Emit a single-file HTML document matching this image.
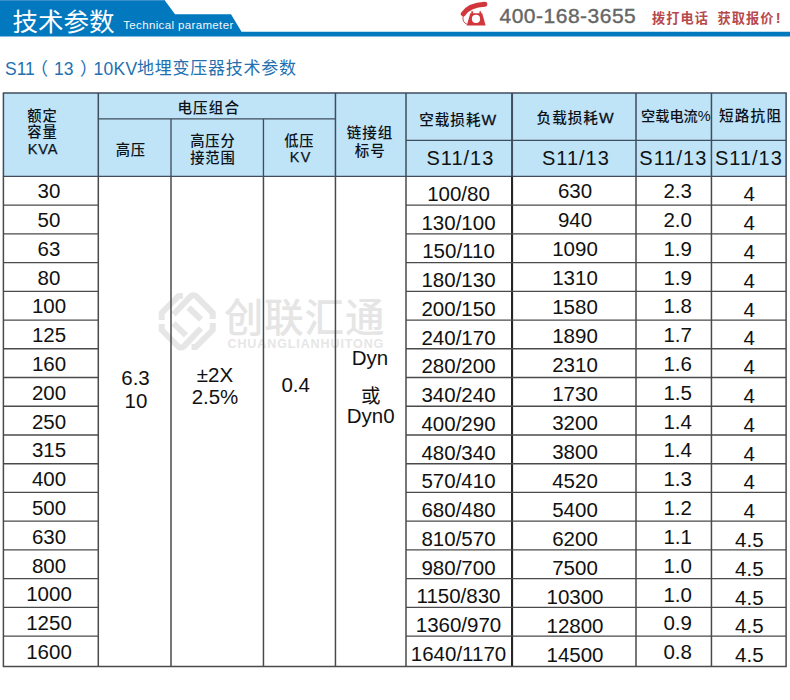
<!DOCTYPE html>
<html><head><meta charset="utf-8"><style>
html,body{margin:0;padding:0;background:#fff;}
body{width:790px;height:700px;position:relative;overflow:hidden;font-family:"Liberation Sans","Noto Sans CJK SC",sans-serif;}
.t{position:absolute;text-align:center;white-space:nowrap;}
.l{position:absolute;white-space:nowrap;}
</style></head><body>
<svg style="position:absolute;left:0;top:0" width="790" height="40"><polygon points="0,0 164.5,0 175,14.3 231,14.3 241.5,31.8 790,31.8 790,36.6 0,36.6" fill="#0279bf"/><rect x="0" y="0" width="164.5" height="1" fill="#3b8fcb"/></svg>
<div class="l" style="left:12.50px;top:9.62px;font-size:25.5px;line-height:25.5px;color:#fff;font-family:'Liberation Sans','Noto Sans CJK SC',sans-serif;font-weight:400;">技术参数</div>
<div class="l" style="left:123.20px;top:20.39px;font-size:11.5px;line-height:11.5px;color:#f4f8fc;letter-spacing:0.36px;">Technical parameter</div>
<svg style="position:absolute;left:455px;top:0" width="36" height="30" viewBox="455 0 36 30">
<path d="M463.3,13.8 Q469.5,4.8 484.8,4.2" stroke="#d0363b" stroke-width="5" stroke-linecap="round" fill="none"/>
<path d="M463.2,16 Q461.8,22.5 467.5,24.5" stroke="#d0363b" stroke-width="0.9" fill="none"/>
<polygon points="470.3,13.2 482.2,13.2 485.6,25.6 466.8,25.6" fill="#d0363b"/>
<rect x="471.3" y="11.3" width="1.8" height="2.5" fill="#d0363b"/>
<rect x="479.4" y="11.3" width="1.8" height="2.5" fill="#d0363b"/>
<circle cx="476" cy="18.9" r="4.1" fill="#fff"/>
</svg>
<div class="l" style="left:499.50px;top:4.89px;font-size:21px;line-height:21px;color:#666;letter-spacing:0.5px;-webkit-text-stroke:0.4px #666;">400-168-3655</div>
<div class="l" style="left:652.00px;top:11.80px;font-size:13.2px;line-height:13.2px;color:#b03a40;font-family:'Liberation Sans','Noto Sans CJK SC',sans-serif;font-weight:700;letter-spacing:1.1px;opacity:0.92;">拨打电话</div>
<div class="l" style="left:717.50px;top:11.80px;font-size:13.2px;line-height:13.2px;color:#b03a40;font-family:'Liberation Sans','Noto Sans CJK SC',sans-serif;font-weight:700;letter-spacing:1.1px;opacity:0.92;">获取报价<span style="font-family:'Liberation Sans',sans-serif;letter-spacing:0;font-size:14.5px;margin-left:1px">!</span></div>
<div class="l" style="left:5.00px;top:60.66px;font-size:17.5px;line-height:17.5px;color:#2370b0;">S11</div>
<div class="l" style="left:30.50px;top:61.07px;font-size:17.5px;line-height:17.5px;color:#2370b0;font-family:'Liberation Sans','Noto Sans CJK SC',sans-serif;">（</div>
<div class="l" style="left:54.00px;top:60.66px;font-size:17.5px;line-height:17.5px;color:#2370b0;">13</div>
<div class="l" style="left:80.00px;top:61.07px;font-size:17.5px;line-height:17.5px;color:#2370b0;font-family:'Liberation Sans','Noto Sans CJK SC',sans-serif;">）</div>
<div class="l" style="left:93.50px;top:60.66px;font-size:17.5px;line-height:17.5px;color:#2370b0;letter-spacing:0.3px;">10KV</div>
<div class="l" style="left:137.00px;top:59.61px;font-size:17px;line-height:17px;color:#2370b0;font-family:'Liberation Sans','Noto Sans CJK SC',sans-serif;letter-spacing:0.75px;">地埋变压器技术参数</div>
<div style="position:absolute;left:3px;top:93px;width:784px;height:84px;background:#bfe3f7"></div>
<svg style="position:absolute;left:152px;top:285px" width="70" height="70" viewBox="0 0 70 70">
<g fill="none" stroke="#e6e6e6" stroke-width="6" stroke-linejoin="round" stroke-linecap="butt">
<path d="M9.75,35 L9.75,27.8 L26.65,10.9 L31,10.9"/>
<path d="M36.5,22.5 L49,34.5"/>
<path d="M21.5,29.5 L38.6,11.4 Q40.5,9.5 43.85,10.9 L60.75,27.8 L60.75,34"/>
<path d="M60.75,38 L60.75,45 L43.85,61.9 L39.5,61.9"/>
<path d="M34,50.3 L21.5,38.3"/>
<path d="M49,43.3 L31.9,61.4 Q30,63.3 26.65,61.9 L9.75,45 L9.75,39"/>
</g></svg>
<div class="l" style="left:224.00px;top:299.44px;font-size:39.5px;line-height:39.5px;color:#e5e5e5;font-family:'Liberation Sans','Noto Sans CJK SC',sans-serif;font-weight:500;letter-spacing:0.8px;">创联汇通</div>
<div class="l" style="left:227.50px;top:337.69px;font-size:12.5px;line-height:12.5px;color:#e6e6e6;font-weight:700;letter-spacing:0.9px;">CHUANGLIANHUITONG</div>
<svg style="position:absolute;left:0;top:0" width="790" height="700"><line x1="2.8" y1="93.0" x2="786.7" y2="93.0" stroke="#3f4d5c" stroke-width="1.35"/><line x1="98.3" y1="118.9" x2="335.45" y2="118.9" stroke="#3f4d5c" stroke-width="1.35"/><line x1="406.0" y1="140.4" x2="786.1" y2="140.4" stroke="#3f4d5c" stroke-width="1.35"/><line x1="2.8" y1="176.4" x2="786.7" y2="176.4" stroke="#3f4d5c" stroke-width="1.35"/><line x1="3.4" y1="93.0" x2="3.4" y2="176.4" stroke="#3f4d5c" stroke-width="1.5"/><line x1="98.3" y1="93.0" x2="98.3" y2="176.4" stroke="#3f4d5c" stroke-width="1.5"/><line x1="335.45" y1="93.0" x2="335.45" y2="176.4" stroke="#3f4d5c" stroke-width="1.5"/><line x1="406.0" y1="93.0" x2="406.0" y2="176.4" stroke="#3f4d5c" stroke-width="1.5"/><line x1="636.0" y1="93.0" x2="636.0" y2="176.4" stroke="#3f4d5c" stroke-width="1.5"/><line x1="711.45" y1="93.0" x2="711.45" y2="176.4" stroke="#3f4d5c" stroke-width="1.5"/><line x1="786.1" y1="93.0" x2="786.1" y2="176.4" stroke="#3f4d5c" stroke-width="1.5"/><line x1="512.05" y1="93.0" x2="512.05" y2="176.4" stroke="#3f4d5c" stroke-width="2.0"/><line x1="171.0" y1="118.9" x2="171.0" y2="176.4" stroke="#3f4d5c" stroke-width="1.35"/><line x1="263.45" y1="118.9" x2="263.45" y2="176.4" stroke="#3f4d5c" stroke-width="1.35"/><line x1="3.4" y1="176.4" x2="3.4" y2="666.6" stroke="#4a4a4a" stroke-width="1.5"/><line x1="98.3" y1="176.4" x2="98.3" y2="666.6" stroke="#4a4a4a" stroke-width="1.5"/><line x1="171.0" y1="176.4" x2="171.0" y2="666.6" stroke="#4a4a4a" stroke-width="1.5"/><line x1="263.45" y1="176.4" x2="263.45" y2="666.6" stroke="#4a4a4a" stroke-width="1.5"/><line x1="335.45" y1="176.4" x2="335.45" y2="666.6" stroke="#4a4a4a" stroke-width="1.5"/><line x1="406.0" y1="176.4" x2="406.0" y2="666.6" stroke="#4a4a4a" stroke-width="1.5"/><line x1="636.0" y1="176.4" x2="636.0" y2="666.6" stroke="#4a4a4a" stroke-width="1.5"/><line x1="711.45" y1="176.4" x2="711.45" y2="666.6" stroke="#4a4a4a" stroke-width="1.5"/><line x1="786.1" y1="176.4" x2="786.1" y2="666.6" stroke="#4a4a4a" stroke-width="1.5"/><line x1="512.05" y1="176.4" x2="512.05" y2="666.6" stroke="#262626" stroke-width="2.1"/><line x1="3.4" y1="205.13" x2="98.3" y2="205.13" stroke="#4a4a4a" stroke-width="1.35"/><line x1="406.0" y1="205.13" x2="786.1" y2="205.13" stroke="#4a4a4a" stroke-width="1.35"/><line x1="3.4" y1="233.86" x2="98.3" y2="233.86" stroke="#4a4a4a" stroke-width="1.35"/><line x1="406.0" y1="233.86" x2="786.1" y2="233.86" stroke="#4a4a4a" stroke-width="1.35"/><line x1="3.4" y1="262.59000000000003" x2="98.3" y2="262.59000000000003" stroke="#4a4a4a" stroke-width="1.35"/><line x1="406.0" y1="262.59000000000003" x2="786.1" y2="262.59000000000003" stroke="#4a4a4a" stroke-width="1.35"/><line x1="3.4" y1="291.32" x2="98.3" y2="291.32" stroke="#4a4a4a" stroke-width="1.35"/><line x1="406.0" y1="291.32" x2="786.1" y2="291.32" stroke="#4a4a4a" stroke-width="1.35"/><line x1="3.4" y1="320.05" x2="98.3" y2="320.05" stroke="#4a4a4a" stroke-width="1.35"/><line x1="406.0" y1="320.05" x2="786.1" y2="320.05" stroke="#4a4a4a" stroke-width="1.35"/><line x1="3.4" y1="348.78" x2="98.3" y2="348.78" stroke="#4a4a4a" stroke-width="1.35"/><line x1="406.0" y1="348.78" x2="786.1" y2="348.78" stroke="#4a4a4a" stroke-width="1.35"/><line x1="3.4" y1="377.51" x2="98.3" y2="377.51" stroke="#4a4a4a" stroke-width="1.35"/><line x1="406.0" y1="377.51" x2="786.1" y2="377.51" stroke="#4a4a4a" stroke-width="1.35"/><line x1="3.4" y1="406.24" x2="98.3" y2="406.24" stroke="#4a4a4a" stroke-width="1.35"/><line x1="406.0" y1="406.24" x2="786.1" y2="406.24" stroke="#4a4a4a" stroke-width="1.35"/><line x1="3.4" y1="434.97" x2="98.3" y2="434.97" stroke="#4a4a4a" stroke-width="1.35"/><line x1="406.0" y1="434.97" x2="786.1" y2="434.97" stroke="#4a4a4a" stroke-width="1.35"/><line x1="3.4" y1="463.70000000000005" x2="98.3" y2="463.70000000000005" stroke="#4a4a4a" stroke-width="1.35"/><line x1="406.0" y1="463.70000000000005" x2="786.1" y2="463.70000000000005" stroke="#4a4a4a" stroke-width="1.35"/><line x1="3.4" y1="492.43000000000006" x2="98.3" y2="492.43000000000006" stroke="#4a4a4a" stroke-width="1.35"/><line x1="406.0" y1="492.43000000000006" x2="786.1" y2="492.43000000000006" stroke="#4a4a4a" stroke-width="1.35"/><line x1="3.4" y1="521.16" x2="98.3" y2="521.16" stroke="#4a4a4a" stroke-width="1.35"/><line x1="406.0" y1="521.16" x2="786.1" y2="521.16" stroke="#4a4a4a" stroke-width="1.35"/><line x1="3.4" y1="549.89" x2="98.3" y2="549.89" stroke="#4a4a4a" stroke-width="1.35"/><line x1="406.0" y1="549.89" x2="786.1" y2="549.89" stroke="#4a4a4a" stroke-width="1.35"/><line x1="3.4" y1="578.62" x2="98.3" y2="578.62" stroke="#4a4a4a" stroke-width="1.35"/><line x1="406.0" y1="578.62" x2="786.1" y2="578.62" stroke="#4a4a4a" stroke-width="1.35"/><line x1="3.4" y1="607.35" x2="98.3" y2="607.35" stroke="#4a4a4a" stroke-width="1.35"/><line x1="406.0" y1="607.35" x2="786.1" y2="607.35" stroke="#4a4a4a" stroke-width="1.35"/><line x1="3.4" y1="636.08" x2="98.3" y2="636.08" stroke="#4a4a4a" stroke-width="1.35"/><line x1="406.0" y1="636.08" x2="786.1" y2="636.08" stroke="#4a4a4a" stroke-width="1.35"/><line x1="2.8" y1="666.6" x2="786.7" y2="666.6" stroke="#4a4a4a" stroke-width="1.5"/></svg>
<div class="l" style="left:27.20px;top:108.53px;font-size:14.3px;line-height:14.3px;color:#0c121a;font-family:'Liberation Sans','Noto Sans CJK SC',sans-serif;font-weight:500;letter-spacing:0.9px;">额定</div>
<div class="l" style="left:27.20px;top:125.38px;font-size:14.3px;line-height:14.3px;color:#0c121a;font-family:'Liberation Sans','Noto Sans CJK SC',sans-serif;font-weight:500;letter-spacing:0.9px;">容量</div>
<div class="l" style="left:27.80px;top:141.98px;font-size:14.5px;line-height:14.5px;color:#0c121a;letter-spacing:0.9px;-webkit-text-stroke:0.25px #0c121a;">KVA</div>
<div class="t" style="left:108.80px;top:100.94px;width:200px;font-size:14.5px;line-height:14.5px;color:#0c121a;font-family:'Liberation Sans','Noto Sans CJK SC',sans-serif;font-weight:500;letter-spacing:1.2px;">电压组合</div>
<div class="t" style="left:30.85px;top:142.58px;width:200px;font-size:14.3px;line-height:14.3px;color:#0c121a;font-family:'Liberation Sans','Noto Sans CJK SC',sans-serif;font-weight:500;letter-spacing:0.9px;">高压</div>
<div class="t" style="left:112.95px;top:133.73px;width:200px;font-size:14.3px;line-height:14.3px;color:#0c121a;font-family:'Liberation Sans','Noto Sans CJK SC',sans-serif;font-weight:500;letter-spacing:0.9px;">高压分</div>
<div class="t" style="left:112.95px;top:151.43px;width:200px;font-size:14.3px;line-height:14.3px;color:#0c121a;font-family:'Liberation Sans','Noto Sans CJK SC',sans-serif;font-weight:500;letter-spacing:0.9px;">接范围</div>
<div class="t" style="left:199.35px;top:133.78px;width:200px;font-size:14.3px;line-height:14.3px;color:#0c121a;font-family:'Liberation Sans','Noto Sans CJK SC',sans-serif;font-weight:500;letter-spacing:0.9px;">低压</div>
<div class="t" style="left:200.70px;top:149.93px;width:200px;font-size:14.3px;line-height:14.3px;color:#0c121a;letter-spacing:1.3px;-webkit-text-stroke:0.25px #0c121a;">KV</div>
<div class="t" style="left:270.00px;top:125.99px;width:200px;font-size:14.5px;line-height:14.5px;color:#0c121a;font-family:'Liberation Sans','Noto Sans CJK SC',sans-serif;font-weight:500;letter-spacing:1.0px;">链接组</div>
<div class="t" style="left:270.20px;top:143.94px;width:200px;font-size:14.5px;line-height:14.5px;color:#0c121a;font-family:'Liberation Sans','Noto Sans CJK SC',sans-serif;font-weight:500;letter-spacing:1.0px;">标号</div>
<div class="t" style="left:358.20px;top:112.79px;width:200px;font-size:14.6px;line-height:14.6px;color:#0c121a;font-family:'Liberation Sans','Noto Sans CJK SC',sans-serif;font-weight:500;letter-spacing:1px;">空载损耗<span style="font-family:'Liberation Sans',sans-serif;font-size:15.5px;-webkit-text-stroke:0.3px #0c121a">W</span></div>
<div class="t" style="left:475.60px;top:110.64px;width:200px;font-size:14.6px;line-height:14.6px;color:#0c121a;font-family:'Liberation Sans','Noto Sans CJK SC',sans-serif;font-weight:500;letter-spacing:1px;">负载损耗<span style="font-family:'Liberation Sans',sans-serif;font-size:15.5px;-webkit-text-stroke:0.3px #0c121a">W</span></div>
<div class="t" style="left:575.90px;top:109.08px;width:200px;font-size:14.2px;line-height:14.2px;color:#0c121a;font-family:'Liberation Sans','Noto Sans CJK SC',sans-serif;font-weight:500;">空载电流<span style="font-family:'Liberation Sans',sans-serif;font-size:14.5px">%</span></div>
<div class="t" style="left:650.60px;top:108.79px;width:200px;font-size:14.6px;line-height:14.6px;color:#0c121a;font-family:'Liberation Sans','Noto Sans CJK SC',sans-serif;font-weight:500;letter-spacing:1.2px;">短路抗阻</div>
<div class="t" style="left:360.40px;top:147.50px;width:200px;font-size:20px;line-height:20px;color:#111;letter-spacing:1px;">S11/13</div>
<div class="t" style="left:475.90px;top:147.50px;width:200px;font-size:20px;line-height:20px;color:#111;letter-spacing:1px;">S11/13</div>
<div class="t" style="left:573.30px;top:147.50px;width:200px;font-size:20px;line-height:20px;color:#111;letter-spacing:1px;">S11/13</div>
<div class="t" style="left:648.90px;top:147.50px;width:200px;font-size:20px;line-height:20px;color:#111;letter-spacing:1px;">S11/13</div>
<div class="t" style="left:-51.00px;top:181.25px;width:200px;font-size:20.5px;line-height:20.5px;color:#111;">30</div>
<div class="t" style="left:358.50px;top:184.00px;width:200px;font-size:20.5px;line-height:20.5px;color:#111;">100/80</div>
<div class="t" style="left:475.00px;top:180.85px;width:200px;font-size:20.5px;line-height:20.5px;color:#111;">630</div>
<div class="t" style="left:577.70px;top:181.20px;width:200px;font-size:20.5px;line-height:20.5px;color:#111;">2.3</div>
<div class="t" style="left:649.30px;top:184.45px;width:200px;font-size:20.5px;line-height:20.5px;color:#111;">4</div>
<div class="t" style="left:-51.00px;top:210.04px;width:200px;font-size:20.5px;line-height:20.5px;color:#111;">50</div>
<div class="t" style="left:358.50px;top:212.74px;width:200px;font-size:20.5px;line-height:20.5px;color:#111;">130/100</div>
<div class="t" style="left:475.00px;top:209.83px;width:200px;font-size:20.5px;line-height:20.5px;color:#111;">940</div>
<div class="t" style="left:577.70px;top:210.01px;width:200px;font-size:20.5px;line-height:20.5px;color:#111;">2.0</div>
<div class="t" style="left:649.30px;top:213.25px;width:200px;font-size:20.5px;line-height:20.5px;color:#111;">4</div>
<div class="t" style="left:-51.00px;top:238.84px;width:200px;font-size:20.5px;line-height:20.5px;color:#111;">63</div>
<div class="t" style="left:358.50px;top:241.48px;width:200px;font-size:20.5px;line-height:20.5px;color:#111;">150/110</div>
<div class="t" style="left:475.00px;top:238.81px;width:200px;font-size:20.5px;line-height:20.5px;color:#111;">1090</div>
<div class="t" style="left:577.70px;top:238.82px;width:200px;font-size:20.5px;line-height:20.5px;color:#111;">1.9</div>
<div class="t" style="left:649.30px;top:242.05px;width:200px;font-size:20.5px;line-height:20.5px;color:#111;">4</div>
<div class="t" style="left:-51.00px;top:267.63px;width:200px;font-size:20.5px;line-height:20.5px;color:#111;">80</div>
<div class="t" style="left:358.50px;top:270.23px;width:200px;font-size:20.5px;line-height:20.5px;color:#111;">180/130</div>
<div class="t" style="left:475.00px;top:267.79px;width:200px;font-size:20.5px;line-height:20.5px;color:#111;">1310</div>
<div class="t" style="left:577.70px;top:267.63px;width:200px;font-size:20.5px;line-height:20.5px;color:#111;">1.9</div>
<div class="t" style="left:649.30px;top:270.85px;width:200px;font-size:20.5px;line-height:20.5px;color:#111;">4</div>
<div class="t" style="left:-51.00px;top:296.42px;width:200px;font-size:20.5px;line-height:20.5px;color:#111;">100</div>
<div class="t" style="left:358.50px;top:298.97px;width:200px;font-size:20.5px;line-height:20.5px;color:#111;">200/150</div>
<div class="t" style="left:475.00px;top:296.77px;width:200px;font-size:20.5px;line-height:20.5px;color:#111;">1580</div>
<div class="t" style="left:577.70px;top:296.44px;width:200px;font-size:20.5px;line-height:20.5px;color:#111;">1.8</div>
<div class="t" style="left:649.30px;top:299.65px;width:200px;font-size:20.5px;line-height:20.5px;color:#111;">4</div>
<div class="t" style="left:-51.00px;top:325.22px;width:200px;font-size:20.5px;line-height:20.5px;color:#111;">125</div>
<div class="t" style="left:358.50px;top:327.72px;width:200px;font-size:20.5px;line-height:20.5px;color:#111;">240/170</div>
<div class="t" style="left:475.00px;top:325.75px;width:200px;font-size:20.5px;line-height:20.5px;color:#111;">1890</div>
<div class="t" style="left:577.70px;top:325.24px;width:200px;font-size:20.5px;line-height:20.5px;color:#111;">1.7</div>
<div class="t" style="left:649.30px;top:328.45px;width:200px;font-size:20.5px;line-height:20.5px;color:#111;">4</div>
<div class="t" style="left:-51.00px;top:354.01px;width:200px;font-size:20.5px;line-height:20.5px;color:#111;">160</div>
<div class="t" style="left:358.50px;top:356.46px;width:200px;font-size:20.5px;line-height:20.5px;color:#111;">280/200</div>
<div class="t" style="left:475.00px;top:354.73px;width:200px;font-size:20.5px;line-height:20.5px;color:#111;">2310</div>
<div class="t" style="left:577.70px;top:354.05px;width:200px;font-size:20.5px;line-height:20.5px;color:#111;">1.6</div>
<div class="t" style="left:649.30px;top:357.25px;width:200px;font-size:20.5px;line-height:20.5px;color:#111;">4</div>
<div class="t" style="left:-51.00px;top:382.80px;width:200px;font-size:20.5px;line-height:20.5px;color:#111;">200</div>
<div class="t" style="left:358.50px;top:385.20px;width:200px;font-size:20.5px;line-height:20.5px;color:#111;">340/240</div>
<div class="t" style="left:475.00px;top:383.72px;width:200px;font-size:20.5px;line-height:20.5px;color:#111;">1730</div>
<div class="t" style="left:577.70px;top:382.86px;width:200px;font-size:20.5px;line-height:20.5px;color:#111;">1.5</div>
<div class="t" style="left:649.30px;top:386.05px;width:200px;font-size:20.5px;line-height:20.5px;color:#111;">4</div>
<div class="t" style="left:-51.00px;top:411.60px;width:200px;font-size:20.5px;line-height:20.5px;color:#111;">250</div>
<div class="t" style="left:358.50px;top:413.95px;width:200px;font-size:20.5px;line-height:20.5px;color:#111;">400/290</div>
<div class="t" style="left:475.00px;top:412.70px;width:200px;font-size:20.5px;line-height:20.5px;color:#111;">3200</div>
<div class="t" style="left:577.70px;top:411.67px;width:200px;font-size:20.5px;line-height:20.5px;color:#111;">1.4</div>
<div class="t" style="left:649.30px;top:414.85px;width:200px;font-size:20.5px;line-height:20.5px;color:#111;">4</div>
<div class="t" style="left:-51.00px;top:440.39px;width:200px;font-size:20.5px;line-height:20.5px;color:#111;">315</div>
<div class="t" style="left:358.50px;top:442.69px;width:200px;font-size:20.5px;line-height:20.5px;color:#111;">480/340</div>
<div class="t" style="left:475.00px;top:441.68px;width:200px;font-size:20.5px;line-height:20.5px;color:#111;">3800</div>
<div class="t" style="left:577.70px;top:440.48px;width:200px;font-size:20.5px;line-height:20.5px;color:#111;">1.4</div>
<div class="t" style="left:649.30px;top:443.65px;width:200px;font-size:20.5px;line-height:20.5px;color:#111;">4</div>
<div class="t" style="left:-51.00px;top:469.18px;width:200px;font-size:20.5px;line-height:20.5px;color:#111;">400</div>
<div class="t" style="left:358.50px;top:471.44px;width:200px;font-size:20.5px;line-height:20.5px;color:#111;">570/410</div>
<div class="t" style="left:475.00px;top:470.66px;width:200px;font-size:20.5px;line-height:20.5px;color:#111;">4520</div>
<div class="t" style="left:577.70px;top:469.29px;width:200px;font-size:20.5px;line-height:20.5px;color:#111;">1.3</div>
<div class="t" style="left:649.30px;top:472.45px;width:200px;font-size:20.5px;line-height:20.5px;color:#111;">4</div>
<div class="t" style="left:-51.00px;top:497.98px;width:200px;font-size:20.5px;line-height:20.5px;color:#111;">500</div>
<div class="t" style="left:358.50px;top:500.18px;width:200px;font-size:20.5px;line-height:20.5px;color:#111;">680/480</div>
<div class="t" style="left:475.00px;top:499.64px;width:200px;font-size:20.5px;line-height:20.5px;color:#111;">5400</div>
<div class="t" style="left:577.70px;top:498.10px;width:200px;font-size:20.5px;line-height:20.5px;color:#111;">1.2</div>
<div class="t" style="left:649.30px;top:501.25px;width:200px;font-size:20.5px;line-height:20.5px;color:#111;">4</div>
<div class="t" style="left:-51.00px;top:526.77px;width:200px;font-size:20.5px;line-height:20.5px;color:#111;">630</div>
<div class="t" style="left:358.50px;top:528.92px;width:200px;font-size:20.5px;line-height:20.5px;color:#111;">810/570</div>
<div class="t" style="left:475.00px;top:528.62px;width:200px;font-size:20.5px;line-height:20.5px;color:#111;">6200</div>
<div class="t" style="left:577.70px;top:526.91px;width:200px;font-size:20.5px;line-height:20.5px;color:#111;">1.1</div>
<div class="t" style="left:649.30px;top:530.05px;width:200px;font-size:20.5px;line-height:20.5px;color:#111;">4.5</div>
<div class="t" style="left:-51.00px;top:555.57px;width:200px;font-size:20.5px;line-height:20.5px;color:#111;">800</div>
<div class="t" style="left:358.50px;top:557.67px;width:200px;font-size:20.5px;line-height:20.5px;color:#111;">980/700</div>
<div class="t" style="left:475.00px;top:557.60px;width:200px;font-size:20.5px;line-height:20.5px;color:#111;">7500</div>
<div class="t" style="left:577.70px;top:555.72px;width:200px;font-size:20.5px;line-height:20.5px;color:#111;">1.0</div>
<div class="t" style="left:649.30px;top:558.85px;width:200px;font-size:20.5px;line-height:20.5px;color:#111;">4.5</div>
<div class="t" style="left:-51.00px;top:584.36px;width:200px;font-size:20.5px;line-height:20.5px;color:#111;">1000</div>
<div class="t" style="left:358.50px;top:586.41px;width:200px;font-size:20.5px;line-height:20.5px;color:#111;">1150/830</div>
<div class="t" style="left:475.00px;top:586.59px;width:200px;font-size:20.5px;line-height:20.5px;color:#111;">10300</div>
<div class="t" style="left:577.70px;top:584.53px;width:200px;font-size:20.5px;line-height:20.5px;color:#111;">1.0</div>
<div class="t" style="left:649.30px;top:587.65px;width:200px;font-size:20.5px;line-height:20.5px;color:#111;">4.5</div>
<div class="t" style="left:-51.00px;top:613.15px;width:200px;font-size:20.5px;line-height:20.5px;color:#111;">1250</div>
<div class="t" style="left:358.50px;top:615.15px;width:200px;font-size:20.5px;line-height:20.5px;color:#111;">1360/970</div>
<div class="t" style="left:475.00px;top:615.57px;width:200px;font-size:20.5px;line-height:20.5px;color:#111;">12800</div>
<div class="t" style="left:577.70px;top:613.34px;width:200px;font-size:20.5px;line-height:20.5px;color:#111;">0.9</div>
<div class="t" style="left:649.30px;top:616.45px;width:200px;font-size:20.5px;line-height:20.5px;color:#111;">4.5</div>
<div class="t" style="left:-51.00px;top:641.95px;width:200px;font-size:20.5px;line-height:20.5px;color:#111;">1600</div>
<div class="t" style="left:358.50px;top:643.90px;width:200px;font-size:20.5px;line-height:20.5px;color:#111;">1640/1170</div>
<div class="t" style="left:475.00px;top:644.55px;width:200px;font-size:20.5px;line-height:20.5px;color:#111;">14500</div>
<div class="t" style="left:577.70px;top:642.15px;width:200px;font-size:20.5px;line-height:20.5px;color:#111;">0.8</div>
<div class="t" style="left:649.30px;top:645.25px;width:200px;font-size:20.5px;line-height:20.5px;color:#111;">4.5</div>
<div class="t" style="left:35.50px;top:368.45px;width:200px;font-size:20.5px;line-height:20.5px;color:#111;">6.3</div>
<div class="t" style="left:36.00px;top:390.85px;width:200px;font-size:20.5px;line-height:20.5px;color:#111;">10</div>
<div class="t" style="left:115.00px;top:365.45px;width:200px;font-size:20.5px;line-height:20.5px;color:#111;">±2X</div>
<div class="t" style="left:115.00px;top:387.05px;width:200px;font-size:20.5px;line-height:20.5px;color:#111;">2.5%</div>
<div class="t" style="left:195.70px;top:375.35px;width:200px;font-size:20.5px;line-height:20.5px;color:#111;">0.4</div>
<div class="t" style="left:270.00px;top:347.65px;width:200px;font-size:20.5px;line-height:20.5px;color:#111;">Dyn</div>
<div class="t" style="left:270.70px;top:386.63px;width:200px;font-size:19.5px;line-height:19.5px;color:#111;font-family:'Liberation Sans','Noto Sans CJK SC',sans-serif;">或</div>
<div class="t" style="left:270.70px;top:405.65px;width:200px;font-size:20.5px;line-height:20.5px;color:#111;">Dyn0</div>
</body></html>
